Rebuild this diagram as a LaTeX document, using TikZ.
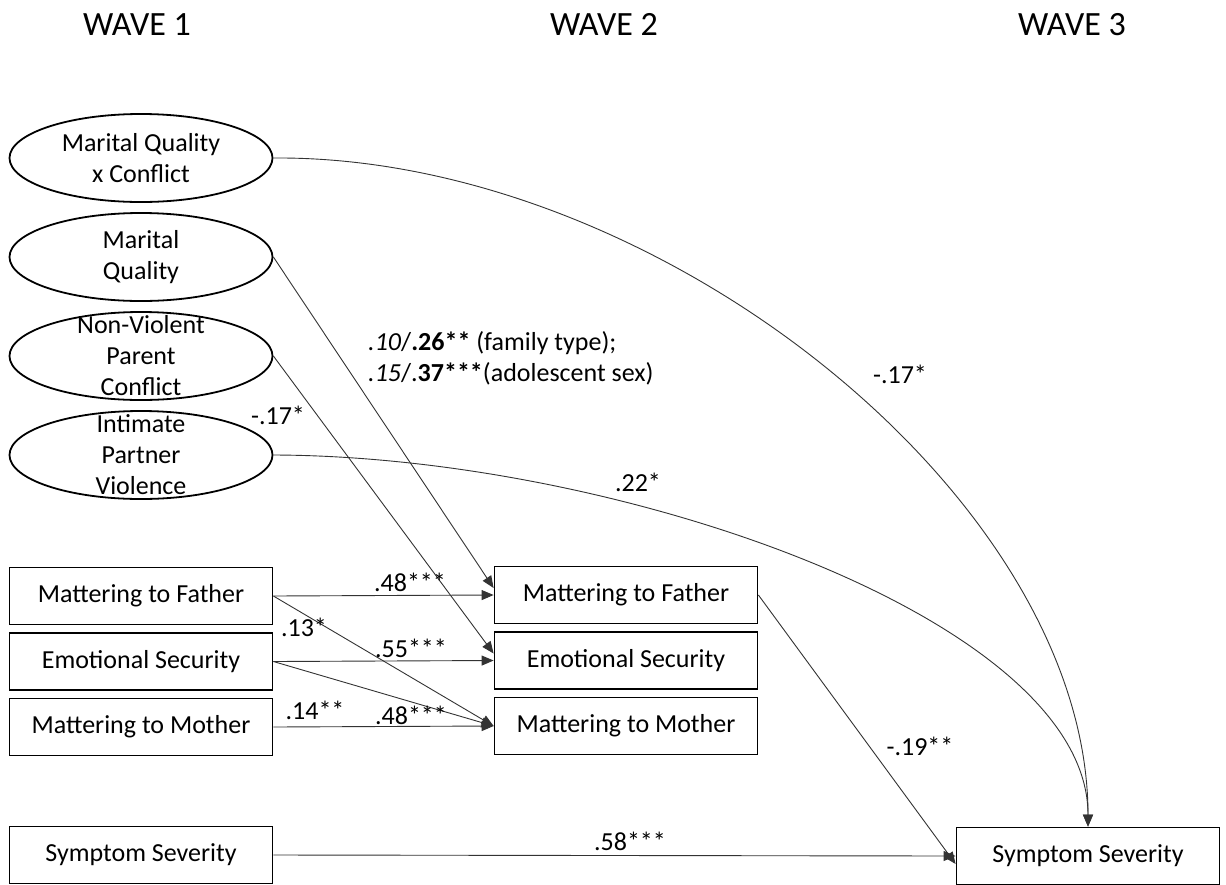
\documentclass[tikz,border=0pt]{standalone}
\usepackage{fontspec}
\setmainfont{Carlito}
\usetikzlibrary{shapes.geometric, arrows.meta}
\newcommand{\wfont}{\fontsize{26}{31}\selectfont}
\tikzstyle{wave} = [font=\fontsize{34}{40}\selectfont, anchor=base]
\tikzstyle{latent} = [ellipse, draw=black, line width=1.8pt, minimum width=263pt, minimum height=88pt, inner sep=0pt]
\tikzstyle{ltext} = [align=center, font=\wfont, inner sep=0pt]
\tikzstyle{observed} = [rectangle, draw=black, line width=1.8pt, minimum width=263pt, minimum height=57pt, font=\wfont]
\tikzstyle{coef} = [font=\wfont, inner sep=0pt]
\tikzstyle{arrow} = [line width=0.9pt, draw=black!80, -{Triangle[length=12pt,width=10pt]}]
\begin{document}
\begin{tikzpicture}[x=1pt, y=-1pt, node distance=65.5pt]
\useasboundingbox (0,0) rectangle (1226,884);

\node (w1) [wave] at (137,35) {WAVE 1};
\node (w2) [wave] at (604,35) {WAVE 2};
\node (w3) [wave] at (1072,35) {WAVE 3};

% wave 1 latent variables
\node (mqc) [latent, label={[ltext]center:Marital Quality\\x Conflict}] at (141,158) {};
\node (mq) [latent, below of=mqc, node distance=99pt, label={[ltext]center:Marital\\Quality}] {};
\node (npc) [latent, below of=mq, node distance=99pt, label={[ltext]center:Non-Violent\\Parent\\Conflict}] {};
\node (ipv) [latent, below of=npc, node distance=99pt, label={[ltext]center:Intimate\\Partner\\Violence}] {};

% wave 1 observed
\node (mf1) [observed] at (141,596) {Mattering to Father};
\node (es1) [observed, below of=mf1] {Emotional Security};
\node (mm1) [observed, below of=es1] {Mattering to Mother};
\node (ss1) [observed] at (141,855) {Symptom Severity};

% wave 2
\node (mf2) [observed] at (626,595) {Mattering to Father};
\node (es2) [observed, below of=mf2] {Emotional Security};
\node (mm2) [observed, below of=es2] {Mattering to Mother};

% wave 3
\node (ss3) [observed] at (1088,856) {Symptom Severity};

\draw[arrow] (mqc.east) .. controls (660,155) and (1088,500) .. (ss3.north);
\draw[arrow] (ipv.east) .. controls (620,456) and (1088,620) .. (ss3.north);
\draw[arrow] (mq.east) -- ([yshift=7pt]mf2.west);
\draw[arrow] (npc.east) -- ([yshift=7pt]es2.west);

\draw[arrow] (mf1.east) -- (mf2.west);
\draw[arrow] (es1.east) -- (es2.west);
\draw[arrow] (mm1.east) -- (mm2.west);
\draw[arrow] (mf1.east) -- (mm2.west);
\draw[arrow] (es1.east) -- (mm2.west);

\draw[arrow] (mf2.east) -- ([yshift=-8pt]ss3.west);
\draw[arrow] (ss1.east) -- (ss3.west);

% coefficients
\node (c1) [coef] at (900,374) {-.17*};
\node (c2) [coef] at (638,482) {.22*};
\node (c3) [coef] at (278,415) {-.17*};
\node (c4) [coef, align=left, anchor=west] at (368,358) {\textit{.10}/\textbf{.26**} (family type);\\\textit{.15}/.\textbf{37***}(adolescent sex)};
\node (c5) [coef] at (410,582) {.48***};
\node (c6) [coef] at (304,627) {.13*};
\node (c7) [coef] at (411,648) {.55***};
\node (c8) [coef] at (315,710) {.14**};
\node (c9) [coef] at (411,715) {.48***};
\node (c10) [coef] at (920,746) {-.19**};
\node (c11) [coef] at (630,841) {.58***};

\end{tikzpicture}
\end{document}
